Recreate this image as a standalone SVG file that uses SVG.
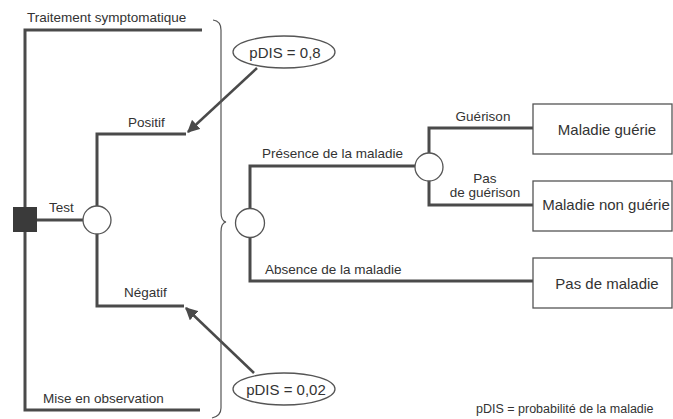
<svg xmlns="http://www.w3.org/2000/svg" width="673" height="419" viewBox="0 0 673 419">
<style>
text{font-family:"Liberation Sans",Arial,sans-serif;fill:#333;}
.lbl{font-size:13.5px;}
.big{font-size:15px;}
.br{fill:none;stroke:#4a4a4a;stroke-width:3;}
.thin{fill:#fff;stroke:#555;stroke-width:1.3;}
.arr{stroke:#4a4a4a;stroke-width:2.5;fill:none;}
</style>
<defs>
<marker id="ah" viewBox="0 0 10 10" refX="9" refY="5" markerWidth="5" markerHeight="5" orient="auto" markerUnits="strokeWidth">
<path d="M0,0 L10,5 L0,10 z" fill="#4a4a4a"/>
</marker>
</defs>
<rect width="673" height="419" fill="#fff"/>
<g id="connectors">
<path class="br" d="M202,30 H25 V410 H200"/>
<path class="br" d="M37,220 H83"/>
<path class="br" d="M97,206 V134 H186"/>
<path class="br" d="M97,234 V306 H184"/>
<path class="br" d="M250,208 V166 H415"/>
<path class="br" d="M250,238 V281 H533"/>
<path class="br" d="M429,153 V128 H533"/>
<path class="br" d="M429,181 V205 H533"/>
<line class="arr" x1="257" y1="68" x2="188" y2="132" marker-end="url(#ah)"/>
<line class="arr" x1="254" y1="373" x2="186" y2="308" marker-end="url(#ah)"/>
<path d="M213,20 Q221,21 221,30 V212 Q221,221 226,222 Q221,223 221,232 V408 Q221,416 212,418" fill="none" stroke="#555" stroke-width="1.2"/>
</g>
<g id="decision">
<rect x="13" y="207" width="24" height="25" fill="#3a3a3a"/>
</g>
<g id="chance-test">
<circle class="thin" cx="97" cy="220" r="14"/>
</g>
<g id="chance-disease">
<circle class="thin" cx="250" cy="223" r="14.5"/>
</g>
<g id="chance-cure">
<circle class="thin" cx="429" cy="167" r="14"/>
</g>
<g id="pdis-high">
<ellipse class="thin" cx="284" cy="52" rx="51" ry="16"/>
<text class="big" x="285" y="58" text-anchor="middle">pDIS = 0,8</text>
</g>
<g id="pdis-low">
<ellipse class="thin" cx="284" cy="389" rx="51" ry="16"/>
<text class="big" x="286" y="395" text-anchor="middle">pDIS = 0,02</text>
</g>
<g id="box-gueri">
<rect class="thin" x="533" y="104" width="139" height="50"/>
<text class="big" x="607" y="135" text-anchor="middle">Maladie guérie</text>
</g>
<g id="box-non-gueri">
<rect class="thin" x="533" y="181" width="139" height="50"/>
<text class="big" x="606" y="210" text-anchor="middle">Maladie non guérie</text>
</g>
<g id="box-pas">
<rect class="thin" x="533" y="258" width="139" height="50"/>
<text class="big" x="607" y="289" text-anchor="middle">Pas de maladie</text>
</g>
<g id="labels">
<text class="lbl" x="27" y="22">Traitement symptomatique</text>
<text class="lbl" x="49" y="212">Test</text>
<text class="lbl" x="128" y="127">Positif</text>
<text class="lbl" x="124" y="297">Négatif</text>
<text class="lbl" x="43" y="403">Mise en observation</text>
<text class="lbl" x="262" y="158">Présence de la maladie</text>
<text class="lbl" x="265" y="274">Absence de la maladie</text>
<text class="lbl" x="483" y="121" text-anchor="middle">Guérison</text>
<text class="lbl" x="485" y="183" text-anchor="middle">Pas</text>
<text class="lbl" x="485" y="197" text-anchor="middle">de guérison</text>
<text x="476" y="413" style="font-size:12.5px">pDIS = probabilité de la maladie</text>
</g>
</svg>
